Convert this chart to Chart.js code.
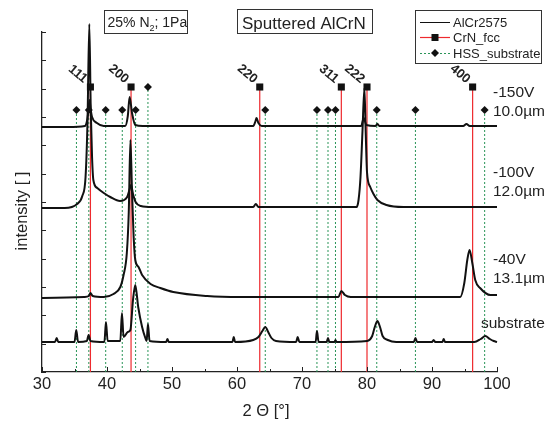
<!DOCTYPE html>
<html>
<head>
<meta charset="utf-8">
<script src="https://cdn.jsdelivr.net/npm/chart.js@4.4.1/dist/chart.umd.min.js"></script>
<style>
  html, body { margin: 0; padding: 0; background: #fff; }
  canvas { display: block; }
</style>
</head>
<body>
<canvas id="chart" width="546" height="425"></canvas>
<script>
const FONT = "'Liberation Sans', Arial, sans-serif";

// scans: 2-theta and intensity (offset plot units)
const scan150x = [30, 34, 36.6, 36.95, 37.15, 37.3, 37.5, 37.7, 38.45, 39.5, 42.8, 43.2, 43.48, 43.85, 44.35, 45.5, 62.5, 62.85, 63.0, 63.3, 63.8, 79.1, 79.5, 79.9, 81.3, 81.6, 81.9, 94.8, 95.3, 95.8, 100];
const scan150y = [245, 245, 246, 252, 262, 272, 262, 255, 249, 246, 246, 256, 275, 259, 247, 246, 246, 251, 254, 249, 246, 246, 254, 247, 246, 248, 246, 246, 248, 246, 246];

const scan100x = [30, 33.5, 35.4, 36.2, 36.7, 37.0, 37.28, 37.5, 37.7, 37.9, 38.5, 39.5, 40.5, 42.0, 43.1, 43.45, 43.7, 44.0, 44.4, 45.2, 47, 62.5, 62.9, 63.3, 78.4, 78.7, 79.0, 79.3, 79.6, 79.8, 80.0, 80.5, 81.0, 81.6, 83.0, 85.6, 100];
const scan100y = [164, 164, 168, 176, 195, 250, 348, 262, 215, 192, 184, 179, 175, 171, 175, 182, 187, 178, 170, 166, 165, 165, 168, 165, 165, 172, 195, 240, 284, 240, 200, 185, 178, 172, 167, 165, 165];

const scan40x = [30, 36.5, 37.2, 37.45, 37.8, 39.5, 41.0, 42.05, 42.55, 43.05, 43.35, 43.6, 43.85, 44.1, 44.35, 44.85, 45.4, 46.7, 48.2, 50.2, 55.4, 60.5, 75.6, 76.05, 76.6, 77.5, 94.35, 94.97, 95.43, 95.78, 96.2, 96.65, 97.4, 99.0, 100];
const scan40y = [74, 75, 76, 79, 76, 75, 78, 85, 97, 119, 160, 232, 180, 135, 112, 105, 97, 88, 84, 80, 76, 75, 75, 81, 77, 75, 75, 89, 112, 122, 109, 92, 84, 77, 77];

const scanSubx = [30, 32.0, 32.26, 32.5, 35.0, 35.27, 35.55, 36.9, 37.17, 37.45, 39.6, 39.84, 40.1, 42.05, 42.3, 42.55, 43.2, 43.6, 44.0, 44.35, 44.8, 45.4, 45.9, 46.1, 46.3, 46.55, 49.1, 49.3, 49.5, 59.3, 59.5, 59.7, 62.5, 63.3, 63.9, 64.35, 64.8, 65.3, 66.0, 69.1, 69.33, 69.6, 72.1, 72.3, 72.55, 73.8, 74.0, 74.2, 75.0, 75.15, 75.3, 80.0, 80.8, 81.2, 81.6, 82.0, 82.4, 83.2, 84.5, 87.2, 87.46, 87.7, 90.0, 90.25, 90.5, 91.6, 91.8, 92.0, 96.5, 97.5, 98.2, 98.9, 99.5, 100];
const scanSuby = [30, 30, 34, 30, 30, 42, 30, 31, 37, 31, 30, 50, 31, 31, 59, 35, 40, 42, 72, 87, 65, 45, 34, 31, 48, 31, 30, 33, 30, 30, 35, 30, 32, 35, 41, 45, 40, 34, 31, 30, 35, 30, 30, 41, 30, 30, 34, 30, 30, 32, 30, 31, 36, 45, 51, 45, 36, 32, 30, 30, 34, 30, 30, 32, 30, 30, 33, 30, 30, 33, 36, 33, 31, 30];

// reference line positions
const crnPos = [37.45, 43.7, 63.5, 76.05, 80.0, 96.25];
const crnTop = [285, 285, 285, 285, 285, 285];
const crnHkl = ["111", "200", "220", "311", "222", "400"];
const hssPos = [35.3, 37.2, 39.8, 42.35, 44.4, 46.3, 64.35, 72.3, 74.0, 75.15, 81.5, 87.45, 98.1];
const hssTop = [262, 262, 262, 262, 262, 285, 262, 262, 262, 262, 262, 262, 262];

const xTicks = [30, 40, 50, 60, 70, 80, 90, 100];

const sampleNames = ["-150V", "-100V", "-40V", "substrate"];
const sampleThick = ["10.0µm", "12.0µm", "13.1µm", ""];

function toPoints(xs, ys) {
    return xs.map((x, i) => ({ x: x, y: ys[i] }));
}

// vertical sticks from 0 up to the marker, broken by null points
function sticks(pos, tops) {
    const out = [];
    pos.forEach((x, i) => {
        out.push({ x: x, y: 0 }, { x: x, y: tops[i] }, { x: x, y: null });
    });
    return out;
}

function tops(pos, tops) {
    return pos.map((x, i) => ({ x: x, y: tops[i] }));
}

function scanSet(points) {
    return {
        data: points,
        showLine: true,
        borderColor: "#111",
        borderWidth: 2,
        pointRadius: 0,
        cubicInterpolationMode: "monotone",
        clip: false,
        order: 1
    };
}

// tick marks inside the plot, titles, boxes, labels and legend
const decorations = {
    id: "decorations",
    afterDraw(chart) {
        const { ctx, scales: { x, y }, chartArea: a } = chart;
        ctx.save();
        ctx.strokeStyle = "#222";
        ctx.lineWidth = 1;
        ctx.beginPath();
        x.ticks.forEach((t, i) => {
            const px = Math.round(x.getPixelForValue(t.value)) + 0.5;
            ctx.moveTo(px, a.bottom);
            ctx.lineTo(px, a.bottom - 5);
            if (i < x.ticks.length - 1) {
                const mx = Math.round(x.getPixelForValue((t.value + x.ticks[i + 1].value) / 2)) + 0.5;
                ctx.moveTo(mx, a.bottom);
                ctx.lineTo(mx, a.bottom - 3);
            }
        });
        y.ticks.forEach(t => {
            const py = Math.round(y.getPixelForValue(t.value)) + 0.5;
            ctx.moveTo(a.left, py);
            ctx.lineTo(a.left + 4, py);
        });
        ctx.stroke();

        ctx.fillStyle = "#222";
        ctx.font = "16.5px " + FONT;
        ctx.textAlign = "center";
        ctx.textBaseline = "alphabetic";
        ctx.fillText("2 \u0398 [\u00b0]", 266, 416);
        ctx.save();
        ctx.translate(27, 211);
        ctx.rotate(-Math.PI / 2);
        ctx.fillText("intensity [ ]", 0, 0);
        ctx.restore();

        // hkl labels, slanted
        ctx.font = "bold 13px " + FONT;
        crnPos.forEach((p, i) => {
            const px = x.getPixelForValue(p) - 12.5;
            const py = y.getPixelForValue(crnTop[i]) - 13;
            ctx.save();
            ctx.translate(px, py);
            ctx.rotate(40 * Math.PI / 180);
            ctx.textBaseline = "middle";
            ctx.fillText(crnHkl[i], 0, 0);
            ctx.restore();
        });

        // sample names on the right
        ctx.font = "15.5px " + FONT;
        ctx.textAlign = "left";
        ctx.textBaseline = "middle";
        const nameY = [93, 173, 260, 324];
        sampleNames.forEach((n, i) => {
            ctx.fillText(n, i === 3 ? 481 : 493, nameY[i]);
            if (sampleThick[i]) ctx.fillText(sampleThick[i], 493, nameY[i] + 18.5);
        });

        // boxes at the top
        ctx.lineWidth = 1;
        ctx.strokeStyle = "#333";
        ctx.fillStyle = "#fff";
        ctx.fillRect(104.5, 10.5, 83, 23);
        ctx.strokeRect(104.5, 10.5, 83, 23);
        ctx.fillRect(237.5, 9.5, 135, 24);
        ctx.strokeRect(237.5, 9.5, 135, 24);
        ctx.fillStyle = "#222";
        ctx.textBaseline = "alphabetic";
        ctx.font = "14px " + FONT;
        let tx = 107.5;
        ctx.fillText("25% N", tx, 27);
        tx += ctx.measureText("25% N").width;
        ctx.font = "9px " + FONT;
        ctx.fillText("2", tx, 31);
        tx += ctx.measureText("2").width;
        ctx.font = "14px " + FONT;
        ctx.fillText("; 1Pa", tx, 27);
        ctx.font = "17px " + FONT;
        ctx.fillText("Sputtered AlCrN", 242, 28.5);

        // legend
        ctx.fillStyle = "#fff";
        ctx.fillRect(415.5, 10.5, 126, 53);
        ctx.strokeRect(415.5, 10.5, 126, 53);
        const ly = [22, 37.5, 53];
        ctx.strokeStyle = "#111";
        ctx.beginPath(); ctx.moveTo(420, ly[0] + 0.5); ctx.lineTo(450, ly[0] + 0.5); ctx.stroke();
        ctx.strokeStyle = "#ee2a2e";
        ctx.lineWidth = 1.2;
        ctx.beginPath(); ctx.moveTo(420, ly[1]); ctx.lineTo(450, ly[1]); ctx.stroke();
        ctx.strokeStyle = "#2a9558";
        ctx.lineWidth = 1;
        ctx.setLineDash([2, 2]);
        ctx.beginPath(); ctx.moveTo(420, ly[2] + 0.5); ctx.lineTo(450, ly[2] + 0.5); ctx.stroke();
        ctx.setLineDash([]);
        ctx.fillStyle = "#111";
        ctx.fillRect(431.5, ly[1] - 3.5, 7, 7);
        ctx.beginPath();
        ctx.moveTo(435, ly[2] - 4); ctx.lineTo(439, ly[2]); ctx.lineTo(435, ly[2] + 4); ctx.lineTo(431, ly[2]);
        ctx.closePath(); ctx.fill();
        ctx.fillStyle = "#222";
        ctx.font = "13px " + FONT;
        ctx.textBaseline = "middle";
        ["AlCr2575", "CrN_fcc", "HSS_substrate"].forEach((t, i) => ctx.fillText(t, 453, ly[i] + 1));
        ctx.restore();
    }
};

const ctx = document.getElementById("chart").getContext("2d");

new Chart(ctx, {
    type: "scatter",
    data: {
        datasets: [
            {
                data: tops(crnPos, crnTop),
                pointStyle: "rect",
                pointRadius: 5,
                pointBackgroundColor: "#111",
                pointBorderWidth: 0,
                clip: false,
                order: 0
            },
            {
                data: tops(hssPos, hssTop),
                pointStyle: "rectRot",
                pointRadius: 4,
                pointBackgroundColor: "#111",
                pointBorderWidth: 0,
                clip: false,
                order: 0
            },
            scanSet(toPoints(scan150x, scan150y)),
            scanSet(toPoints(scan100x, scan100y)),
            scanSet(toPoints(scan40x, scan40y)),
            scanSet(toPoints(scanSubx, scanSuby)),
            {
                data: sticks(crnPos, crnTop),
                showLine: true,
                borderColor: "#ee2a2e",
                borderWidth: 1.2,
                pointRadius: 0,
                spanGaps: false,
                order: 2
            },
            {
                data: sticks(hssPos, hssTop),
                showLine: true,
                borderColor: "#2a9558",
                borderWidth: 1,
                borderDash: [2, 2],
                pointRadius: 0,
                spanGaps: false,
                order: 3
            }
        ]
    },
    options: {
        responsive: false,
        animation: false,
        layout: { padding: { top: 32, right: 49, left: 0, bottom: 0 } },
        plugins: {
            legend: { display: false },
            tooltip: { enabled: false }
        },
        scales: {
            x: {
                type: "linear",
                min: 30,
                max: 100,
                afterFit: s => { s.height = 53; },
                afterBuildTicks: s => { s.ticks = xTicks.map(v => ({ value: v })); },
                ticks: { font: { size: 16.5, family: FONT }, color: "#222", padding: 3 },
                grid: { display: false, drawTicks: false },
                border: { color: "#222", width: 1.3 }
            },
            y: {
                min: 0,
                max: 340,
                afterFit: s => { s.width = 42; },
                ticks: { display: false, stepSize: 340 / 12 },
                grid: { display: false, drawTicks: false },
                border: { color: "#222", width: 1.3 }
            }
        }
    },
    plugins: [decorations]
});
</script>
</body>
</html>
